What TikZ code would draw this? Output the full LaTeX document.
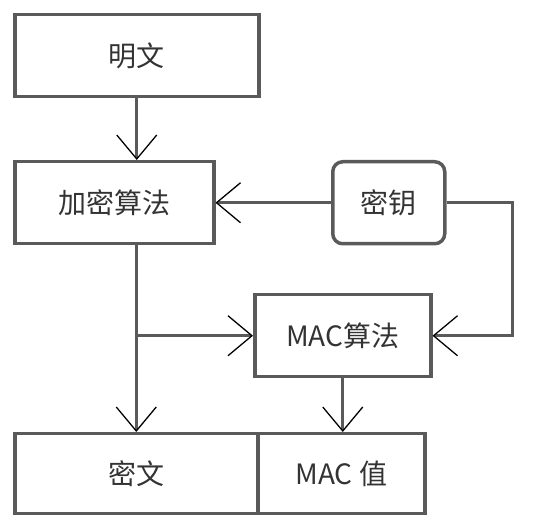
\documentclass[tikz,border=0pt]{standalone}
\usepackage{fontspec}
\setmainfont{Noto Sans CJK SC}
\usetikzlibrary{arrows.meta}
\definecolor{linegray}{RGB}{90,90,90}
\tikzset{
  box/.style={draw=linegray, line width=3.5pt, minimum height=82pt, inner sep=0pt,
    anchor=north west, font=\fontsize{28}{32}\selectfont, text=black!80},
  flow/.style={draw=linegray, line width=3pt,
    -{Straight Barb[length=24pt,width=40pt,line width=1.3pt,color=black]}},
}
\begin{document}
\begin{tikzpicture}[x=1pt,y=-1pt]
	\useasboundingbox (0,0) rectangle (544,526);
	% boxes
	\node[box, minimum width=244pt] (plain) at (13,13) {明文};
	\node[box, minimum width=199pt] (enc) at (13,160) {加密算法};
	\node[box, minimum width=112pt, rounded corners=10pt] (key) at (331,160) {密钥};
	\node[box, minimum width=176pt] (mac) at (253,293) {MAC算法};
	\node[box, minimum width=243pt, minimum height=80pt] (cipher) at (13,432) {密文};
	\node[box, minimum width=167pt, minimum height=80pt] (macval) at (256,432) {MAC 值};
	% arrows
	\draw[flow] (plain.south) -- (plain.south |- enc.north);
	\draw[flow] (key.west) -- (enc.east);
	\draw[flow] (cipher.north |- enc.south) -- (cipher.north);
	\draw[flow] (cipher.north |- mac.west) -- (mac.west);
	\draw[flow] (key.east) -- ++(66,0) |- (mac.east);
	\draw[flow] (mac.south) -- (mac.south |- macval.north);
\end{tikzpicture}
\end{document}
